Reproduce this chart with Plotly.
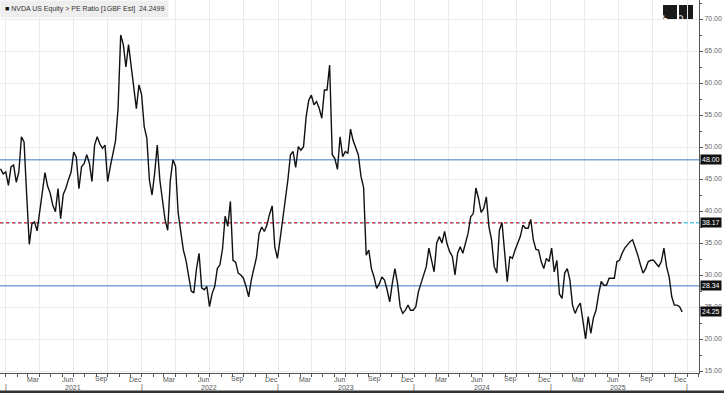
import pandas as pd
import plotly.graph_objects as go

# ---- data (weekly readings of the forward P/E) ----
pe_2020 = [46.6, 45.8]
pe_2021 = [46.1, 44.0, 46.9, 47.2, 44.5, 46.1, 51.6, 50.8, 42.5, 34.8, 38.0, 38.3, 36.9, 39.8,
           42.3, 46.0, 43.9, 42.8, 40.9, 39.9, 43.5, 38.8, 42.6, 43.55, 44.9, 46.1, 49.2, 48.4,
           43.5, 46.9, 47.4, 48.8, 47.5, 44.6, 50.3, 51.6, 50.5, 49.8, 50.3, 44.6, 46.9, 49.0,
           50.9, 56.1, 67.5, 66.0, 62.5, 66.0, 62.7, 59.4, 56.0, 59.7, 58.2]
pe_2022 = [53.2, 51.4, 44.8, 42.5, 45.9, 50.3, 44.8, 41.8, 38.6, 37.0, 44.8, 48.0, 47.0, 39.7,
           37.0, 33.9, 32.3, 30.0, 27.5, 27.2, 30.9, 33.4, 28.0, 27.7, 28.2, 25.05, 27.1, 28.2,
           31.0, 31.6, 34.1, 39.2, 37.6, 41.5, 32.3, 32.0, 30.3, 30.0, 29.5, 28.2, 26.6, 29.2,
           31.3, 32.8, 36.5, 37.5, 36.8, 37.8, 39.5, 40.8, 34.4, 32.6]
pe_2023 = [35.5, 38.6, 41.4, 44.8, 48.8, 49.3, 46.8, 50.05, 49.5, 50.05, 54.7, 57.3, 58.1, 56.6,
           57.1, 56.05, 54.5, 58.9, 58.9, 62.8, 48.8, 48.2, 46.5, 51.6, 48.5, 49.3, 49.0, 52.8,
           51.0, 49.8, 48.75, 45.4, 43.7, 33.1, 33.9, 31.0, 29.7, 27.9, 28.6, 29.7, 29.2, 27.7,
           25.8, 28.7, 31.0, 28.7, 25.05, 24.0, 24.5, 25.3, 24.5, 24.5]
pe_2024 = [25.05, 27.4, 28.7, 29.7, 31.3, 34.2, 32.3, 30.5, 35.0, 36.0, 35.0, 36.8, 34.8, 33.6,
           32.9, 30.0, 33.4, 34.4, 33.4, 35.0, 36.5, 39.1, 39.6, 43.6, 42.0, 39.8, 40.4, 42.2,
           37.5, 35.5, 31.3, 30.3, 37.0, 38.2, 33.1, 28.95, 32.9, 32.6, 33.9, 35.0, 36.0, 37.8,
           37.3, 37.3, 38.7, 35.5, 34.0, 33.9, 32.1, 31.0, 32.6, 32.1]
pe_2025 = [34.2, 30.5, 32.3, 27.0, 26.35, 30.3, 31.0, 29.2, 25.3, 24.0, 25.0, 25.6, 23.0, 20.0,
           23.5, 20.9, 23.3, 24.5, 27.0, 29.0, 28.4, 28.4, 29.5, 29.5, 29.5, 32.1, 32.3, 33.4,
           34.2, 34.7, 35.2, 35.5, 34.4, 33.1, 31.6, 30.3, 31.0, 32.1, 32.3, 32.3, 31.8, 31.3,
           32.1, 34.2, 31.3, 29.7, 26.6, 25.3, 25.3, 25.05, 24.25]

pe = pe_2020 + pe_2021 + pe_2022 + pe_2023 + pe_2024 + pe_2025
dates = pd.date_range("2020-12-18", periods=len(pe), freq="7D")

band_levels = [48.00, 28.34]
mean_level = 38.17
last_value = 24.2499
series_title = "NVDA US Equity > PE Ratio [1GBF Est]"

years = [2021, 2022, 2023, 2024, 2025]
month_names = ["Mar", "Jun", "Sep", "Dec"]
month_nums = [3, 6, 9, 12]

x_start = pd.Timestamp("2020-12-16 12:00")
x_end = pd.Timestamp("2026-02-02")

# ---- figure ----
fig = go.Figure()

for lv in band_levels:
    fig.add_trace(go.Scatter(x=[x_start, x_end], y=[lv, lv], mode="lines",
                             line=dict(color="#7ea5d6", width=1.5), hoverinfo="skip"))
fig.add_trace(go.Scatter(x=[x_start, x_end], y=[mean_level, mean_level], mode="lines",
                         line=dict(color="#5cc9e4", width=1.5, dash="4px,2px"), hoverinfo="skip"))
fig.add_trace(go.Scatter(x=[x_start, dates[-1]], y=[mean_level, mean_level], mode="lines",
                         line=dict(color="#e8404e", width=1.5, dash="3px,3px"), hoverinfo="skip"))

fig.add_trace(go.Scatter(x=dates, y=pe, mode="lines",
                         line=dict(color="#111111", width=1.4), name=series_title))

annotations = []
# level label boxes on the right axis
for lv in band_levels + [mean_level, round(last_value, 2)]:
    annotations.append(dict(x=1, xref="paper", y=lv, yref="y", xanchor="left", yanchor="middle",
                            xshift=1, text=f"{lv:.2f}", showarrow=False,
                            font=dict(family="Liberation Sans, Arial", size=7, color="white"),
                            bgcolor="#111111", borderpad=1))

# month labels, year labels and year separators
lab_font = dict(family="Liberation Sans, Arial", size=7, color="#555555")
for yr in years:
    for mn, mnum in zip(month_names, month_nums):
        annotations.append(dict(x=pd.Timestamp(yr, mnum, 15), xref="x", y=0, yref="paper",
                                yanchor="middle", yshift=-6, text=mn, showarrow=False, font=lab_font))
    annotations.append(dict(x=pd.Timestamp(yr, 7, 1), xref="x", y=0, yref="paper",
                            yanchor="middle", yshift=-14, text=str(yr), showarrow=False, font=lab_font))
for yr in years + [years[-1] + 1]:
    annotations.append(dict(x=pd.Timestamp(yr, 1, 1), xref="x", y=0, yref="paper",
                            yanchor="middle", yshift=-14, text="|", showarrow=False,
                            font=dict(family="Liberation Sans, Arial", size=7, color="#333333")))

# legend-like header
annotations.append(dict(x=0, xref="paper", y=1, yref="paper", xanchor="left", yanchor="top",
                        text=f"<span style='color:#111'>■</span> {series_title}  {last_value}",
                        showarrow=False, align="left",
                        font=dict(family="Liberation Sans, Arial", size=7, color="#333333"),
                        bgcolor="#eeeeee", borderpad=4))

# toolbar icons
annotations.append(dict(x=0.9585, xref="paper", y=0.968, yref="paper", text="✛", showarrow=False,
                        font=dict(family="DejaVu Sans", size=9, color="white")))
annotations.append(dict(x=0.9814, xref="paper", y=0.968, yref="paper", text="⚲", showarrow=False,
                        font=dict(family="DejaVu Sans", size=9, color="white")))

shapes = [
    dict(type="rect", xref="paper", yref="paper", x0=0.9485, x1=0.9685, y0=0.949, y1=0.9866,
         fillcolor="#1a1a1a", line=dict(width=0), layer="below"),
    dict(type="rect", xref="paper", yref="paper", x0=0.9714, x1=0.9914, y0=0.949, y1=0.9866,
         fillcolor="#1a1a1a", line=dict(width=0), layer="below"),
    dict(type="line", xref="paper", yref="paper", x0=0, x1=1.04, y0=-0.0505, y1=-0.0505,
         line=dict(color="#333333", width=2.5)),
]

fig.update_layout(
    width=724, height=393,
    margin=dict(l=0, r=25, t=0, b=20),
    paper_bgcolor="white", plot_bgcolor="white",
    showlegend=False,
    annotations=annotations,
    shapes=shapes,
    xaxis=dict(type="date", range=[x_start, x_end], tick0="2021-01-01", dtick="M3",
               showgrid=True, gridcolor="#ebebeb", gridwidth=1,
               ticks="outside", ticklen=3, tickcolor="#555555", showticklabels=False,
               showline=True, linecolor="#555555", linewidth=1, zeroline=False,
               minor=dict(dtick="M1", tick0="2021-01-01", ticks="outside", ticklen=3,
                          tickcolor="#555555", showgrid=False)),
    yaxis=dict(side="right", range=[14.69, 72.97], tick0=0, dtick=5, tickformat=".2f",
               showgrid=True, gridcolor="#ebebeb", gridwidth=1,
               ticks="outside", ticklen=3, tickcolor="#555555",
               tickfont=dict(family="Liberation Sans, Arial", size=7, color="#666666"),
               showline=True, linecolor="#555555", linewidth=1, zeroline=False,
               minor=dict(dtick=2.5, tick0=0, ticks="outside", ticklen=2, tickcolor="#555555",
                          showgrid=False)),
)

fig.write_html("out.html", config={"displayModeBar": False},
               post_script="document.body.style.margin='0px';document.body.style.overflow='hidden';")
